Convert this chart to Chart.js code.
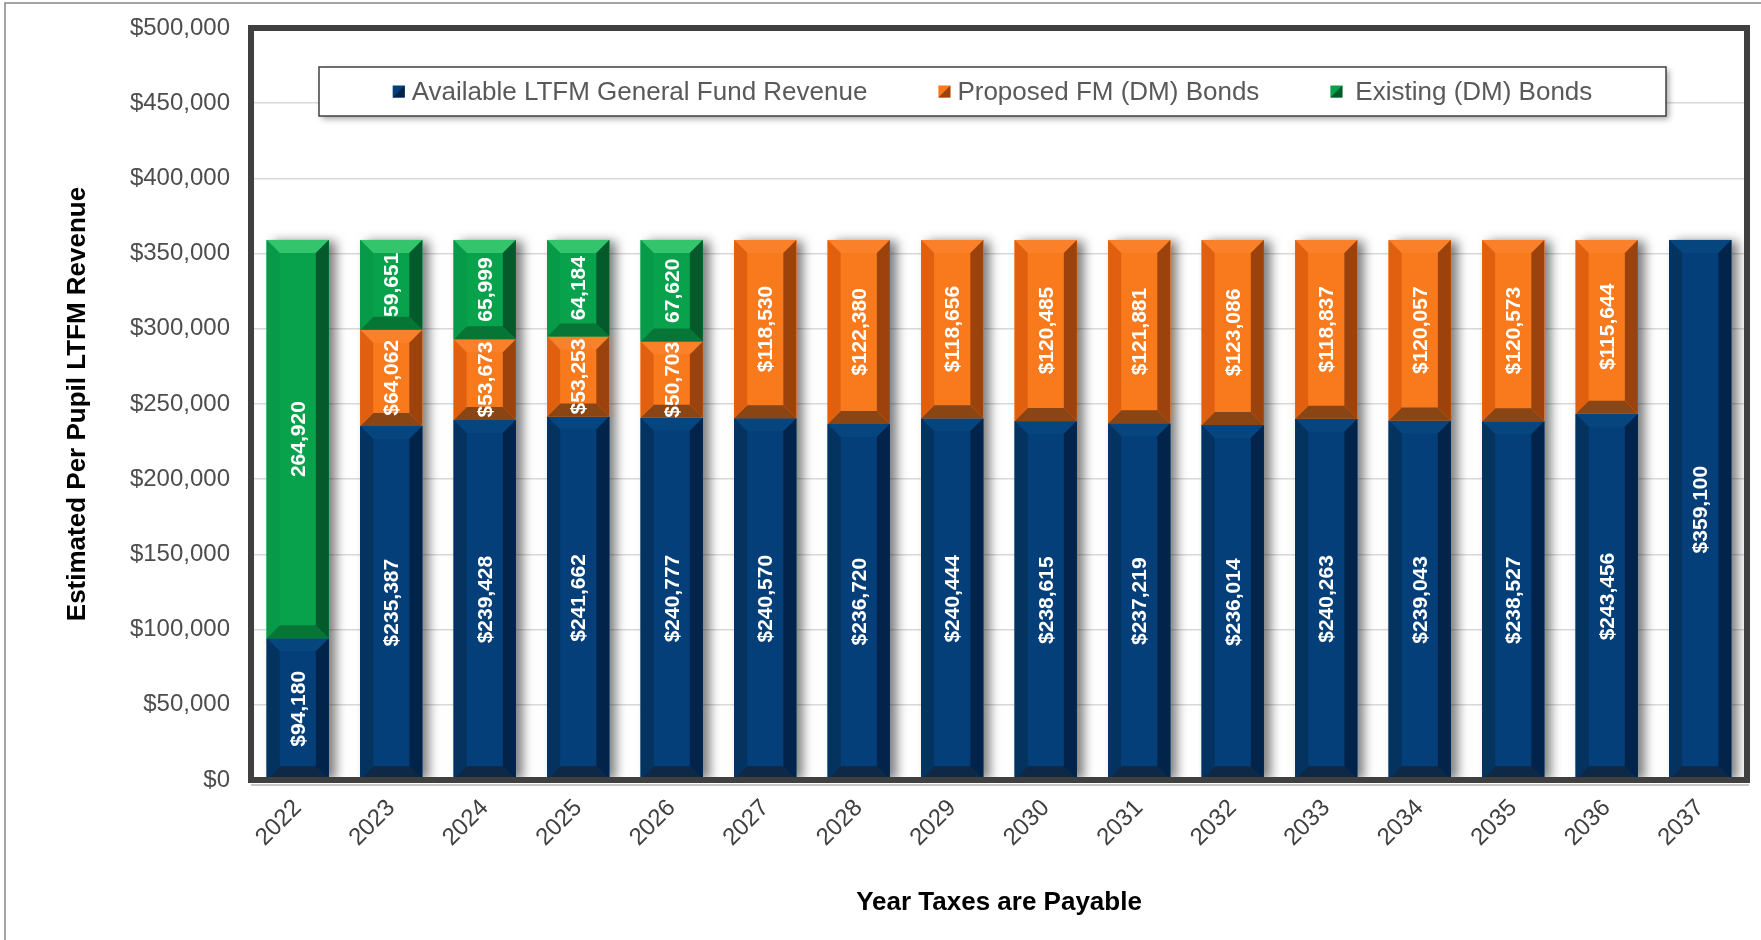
<!DOCTYPE html>
<html>
<head>
<meta charset="utf-8">
<title>Estimated Per Pupil LTFM Revenue</title>
<script src="https://cdn.jsdelivr.net/npm/chart.js@4.4.1/dist/chart.umd.min.js"></script>
<style>
    html, body { margin: 0; padding: 0; background: #ffffff; }
    #wrap { width: 1761px; height: 940px; }
</style>
</head>
<body>
<div id="wrap"><canvas id="ltfmChart" width="1761" height="940"></canvas></div>
<script>
// Chart data
const years = ['2022', '2023', '2024', '2025', '2026', '2027', '2028', '2029',
               '2030', '2031', '2032', '2033', '2034', '2035', '2036', '2037'];
const availableRevenue = [94180, 235387, 239428, 241662, 240777, 240570, 236720, 240444,
                          238615, 237219, 236014, 240263, 239043, 238527, 243456, 359100];
const proposedBonds = [null, 64062, 53673, 53253, 50703, 118530, 122380, 118656,
                       120485, 121881, 123086, 118837, 120057, 120573, 115644, null];
const existingBonds = [264920, 59651, 65999, 64184, 67620, null, null, null,
                       null, null, null, null, null, null, null, null];
const seriesNames = ['Available LTFM General Fund Revenue', 'Proposed FM (DM) Bonds', 'Existing (DM) Bonds'];
const yTicks = { min: 0, max: 500000, step: 50000 };

const fontFamily = "'Liberation Sans', Arial, Helvetica, sans-serif";

// Bevel shades per series (face, top, left, right, bottom)
const shades = [
    { face: '#053f79', top: '#07457f', left: '#04335f', right: '#02244a', bottom: '#0e2846' },
    { face: '#f97a1c', top: '#fa812a', left: '#e06010', right: '#9c430d', bottom: '#8a4515' },
    { face: '#08a24c', top: '#33c46c', left: '#079a48', right: '#045a2b', bottom: '#067535' }
];
// Blue and orange labels carry the dollar sign, green does not
const labelPrefix = ['$', '$', ''];

function formatNumber(v) {
    return String(v).replace(/\B(?=(\d{3})+(?!\d))/g, ',');
}

function barBox(el) {
    const p = el.getProps(['x', 'y', 'base', 'width'], true);
    return {
        left: p.x - p.width / 2,
        right: p.x + p.width / 2,
        top: Math.min(p.y, p.base),
        bottom: Math.max(p.y, p.base),
        cx: p.x
    };
}

function fillPoly(ctx, pts, color) {
    ctx.fillStyle = color;
    ctx.beginPath();
    ctx.moveTo(pts[0][0], pts[0][1]);
    for (let i = 1; i < pts.length; i++) ctx.lineTo(pts[i][0], pts[i][1]);
    ctx.closePath();
    ctx.fill();
}

function drawBevel(ctx, b, c) {
    const l = b.left, r = b.right, t = b.top, bt = b.bottom;
    const s = Math.min(13, (bt - t) / 2, (r - l) / 2);
    ctx.fillStyle = c.face;
    ctx.fillRect(l, t, r - l, bt - t);
    fillPoly(ctx, [[l, t], [r, t], [r - s, t + s], [l + s, t + s]], c.top);
    fillPoly(ctx, [[l, bt], [r, bt], [r - s, bt - s], [l + s, bt - s]], c.bottom);
    fillPoly(ctx, [[l, t], [l + s, t + s], [l + s, bt - s], [l, bt]], c.left);
    fillPoly(ctx, [[r, t], [r - s, t + s], [r - s, bt - s], [r, bt]], c.right);
}

// Soft shadow behind each column, bevelled faces and the vertical value labels
const bevelBars = {
    id: 'bevelBars',
    beforeDatasetsDraw(chart) {
        const ctx = chart.ctx;
        const area = chart.chartArea;
        ctx.save();
        ctx.beginPath();
        ctx.rect(area.left, area.top, area.right - area.left, area.bottom - area.top);
        ctx.clip();
        ctx.shadowColor = 'rgba(0, 0, 0, 0.5)';
        ctx.shadowBlur = 10;
        ctx.shadowOffsetX = 7;
        ctx.shadowOffsetY = 1;
        ctx.fillStyle = '#ffffff';
        chart.data.labels.forEach((_, i) => {
            let col = null;
            chart.data.datasets.forEach((ds, d) => {
                const el = chart.getDatasetMeta(d).data[i];
                if (!el || !ds.data[i]) return;
                const b = barBox(el);
                col = col ? {
                    left: Math.min(col.left, b.left), right: Math.max(col.right, b.right),
                    top: Math.min(col.top, b.top), bottom: Math.max(col.bottom, b.bottom)
                } : b;
            });
            if (col) ctx.fillRect(col.left, col.top, col.right - col.left, col.bottom - col.top);
        });
        ctx.restore();
    },
    afterDatasetsDraw(chart) {
        const ctx = chart.ctx;
        ctx.save();
        chart.data.datasets.forEach((ds, d) => {
            chart.getDatasetMeta(d).data.forEach((el, i) => {
                if (!ds.data[i]) return;
                drawBevel(ctx, barBox(el), shades[d]);
            });
        });
        ctx.fillStyle = '#ffffff';
        ctx.font = 'bold 21px ' + fontFamily;
        ctx.textAlign = 'center';
        ctx.textBaseline = 'middle';
        chart.data.datasets.forEach((ds, d) => {
            chart.getDatasetMeta(d).data.forEach((el, i) => {
                const v = ds.data[i];
                if (!v) return;
                const b = barBox(el);
                ctx.save();
                ctx.translate(b.cx, (b.top + b.bottom) / 2);
                ctx.rotate(-Math.PI / 2);
                ctx.fillText(labelPrefix[d] + formatNumber(v), 0, 1);
                ctx.restore();
            });
        });
        ctx.restore();
    }
};

// Outer frame, plot frame and the boxed legend inside the plot area
const frameAndLegend = {
    id: 'frameAndLegend',
    afterDraw(chart) {
        const ctx = chart.ctx;
        const area = chart.chartArea;
        ctx.save();

        ctx.strokeStyle = '#868686';
        ctx.lineWidth = 1.5;
        ctx.beginPath();
        ctx.moveTo(5, chart.height);
        ctx.lineTo(5, 3);
        ctx.lineTo(chart.width, 3);
        ctx.stroke();

        ctx.strokeStyle = '#c8c8c8';
        ctx.lineWidth = 2;
        ctx.beginPath();
        ctx.moveTo(area.left, area.bottom + 5);
        ctx.lineTo(area.right + 2, area.bottom + 5);
        ctx.stroke();

        ctx.strokeStyle = '#404040';
        ctx.lineWidth = 6;
        ctx.strokeRect(area.left, area.top, area.right - area.left, area.bottom - area.top);

        // legend box
        const bx = area.left + 68, by = area.top + 39, bw = 1347, bh = 49;
        ctx.save();
        ctx.shadowColor = 'rgba(0, 0, 0, 0.35)';
        ctx.shadowBlur = 6;
        ctx.shadowOffsetX = 3;
        ctx.shadowOffsetY = 3;
        ctx.fillStyle = '#ffffff';
        ctx.fillRect(bx, by, bw, bh);
        ctx.restore();
        ctx.strokeStyle = '#404040';
        ctx.lineWidth = 1.5;
        ctx.strokeRect(bx, by, bw, bh);

        ctx.font = '26px ' + fontFamily;
        ctx.textBaseline = 'middle';
        ctx.textAlign = 'left';
        const marker = 12, markerGap = [7, 7, 13], itemGap = 71;
        const widths = seriesNames.map(n => ctx.measureText(n).width);
        let total = 0;
        widths.forEach((w, k) => { total += marker + markerGap[k] + w; });
        total += itemGap * (seriesNames.length - 1);
        let x = bx + bw / 2 - total / 2;
        const cy = by + bh / 2;
        seriesNames.forEach((name, k) => {
            const c = shades[k];
            ctx.fillStyle = c.face;
            ctx.fillRect(x, cy - marker / 2, marker, marker);
            fillPoly(ctx, [[x + marker, cy - marker / 2], [x + marker, cy + marker / 2], [x, cy + marker / 2]], c.right);
            ctx.fillStyle = '#595959';
            ctx.fillText(name, x + marker + markerGap[k], cy + 1);
            x += marker + markerGap[k] + widths[k] + itemGap;
        });

        ctx.restore();
    }
};

function buildDatasets() {
    const series = [availableRevenue, proposedBonds, existingBonds];
    return series.map((values, k) => ({
        label: seriesNames[k],
        data: values,
        backgroundColor: shades[k].face,
        borderWidth: 0,
        barPercentage: 0.665,
        categoryPercentage: 1
    }));
}

function createChart() {
    const ctx = document.getElementById('ltfmChart').getContext('2d');

    return new Chart(ctx, {
        type: 'bar',
        data: {
            labels: years,
            datasets: buildDatasets()
        },
        options: {
            responsive: false,
            animation: false,
            layout: {
                padding: { top: 28, right: 14, bottom: 0, left: 0 }
            },
            plugins: {
                legend: { display: false },
                tooltip: { enabled: false }
            },
            scales: {
                x: {
                    stacked: true,
                    grid: { display: false, drawTicks: false },
                    border: { display: false },
                    ticks: {
                        minRotation: 45,
                        maxRotation: 45,
                        padding: 14,
                        color: '#404040',
                        font: { size: 24, family: fontFamily }
                    },
                    title: {
                        display: true,
                        text: 'Year Taxes are Payable',
                        color: '#000000',
                        font: { size: 26, weight: 'bold', family: fontFamily },
                        padding: { top: 0, bottom: 22 }
                    },
                    afterFit: scale => { scale.height = 160; }
                },
                y: {
                    stacked: true,
                    min: yTicks.min,
                    max: yTicks.max,
                    grid: { color: '#d9d9d9', lineWidth: 1.5, drawTicks: false },
                    border: { display: false },
                    ticks: {
                        stepSize: yTicks.step,
                        padding: 21,
                        color: '#4d4d4d',
                        font: { size: 24, family: fontFamily },
                        callback: v => '$' + formatNumber(v)
                    },
                    title: {
                        display: true,
                        text: 'Estimated Per Pupil LTFM Revenue',
                        color: '#000000',
                        font: { size: 26, weight: 'bold', family: fontFamily },
                        padding: { top: 62, bottom: 0 }
                    },
                    afterFit: scale => {
                        // fixed axis width; keep tick padding from pushing the plot down
                        scale.width = 251;
                        scale.paddingTop = 0;
                        scale.paddingBottom = 0;
                    }
                }
            }
        },
        plugins: [bevelBars, frameAndLegend]
    });
}

createChart();
</script>
</body>
</html>
